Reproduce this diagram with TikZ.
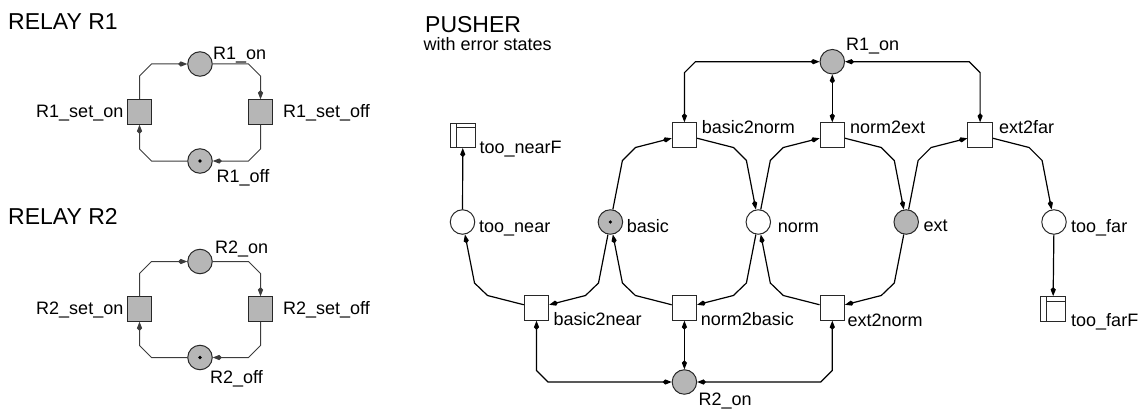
\documentclass[tikz,border=0pt]{standalone}
\usepackage{fontspec}
\setmainfont{Liberation Sans}
\usetikzlibrary{arrows.meta}
\definecolor{pfill}{RGB}{182,182,182}
\definecolor{edge}{RGB}{40,40,40}
\definecolor{redge}{RGB}{60,60,60}
\tikzset{
  place/.style={circle, draw=edge, line width=1pt, minimum size=24.5pt, inner sep=0pt, fill=white},
  gplace/.style={place, fill=pfill},
  trans/.style={rectangle, draw=edge, line width=1pt, minimum size=24.5pt, inner sep=0pt, fill=white},
  gtrans/.style={trans, fill=pfill},
  finalbox/.style={trans, path picture={
      \draw[edge, line width=0.9pt] ([xshift=5.5pt]path picture bounding box.north west) -- ([xshift=5.5pt]path picture bounding box.south west);
      \draw[edge, line width=0.9pt] ([xshift=5.5pt,yshift=-4.8pt]path picture bounding box.north west) -- ([yshift=-4.8pt]path picture bounding box.north east);
  }},
  tok/.style={circle, fill=black, inner sep=0pt, minimum size=3.6pt},
  lbl/.style={inner sep=0pt, anchor=base west, font=\fontsize{18}{20}\selectfont},
  rlbl/.style={lbl, anchor=base east},
  ttl/.style={inner sep=0pt, anchor=base west, font=\fontsize{23}{26}\selectfont},
  tip/.style={Kite[length=9pt,width=5.2pt,inset=2.5pt]},
  arr/.style={-{Kite[length=9pt,width=5.2pt,inset=2.5pt]}, line width=1.2pt, draw=black},
  darr/.style={{Kite[length=9pt,width=5.2pt,inset=2.5pt]}-{Kite[length=9pt,width=5.2pt,inset=2.5pt]}, line width=1.2pt, draw=black},
  rarr/.style={-{Kite[length=9pt,width=5.2pt,inset=2.5pt]}, line width=1pt, draw=redge},
}
\begin{document}
\begin{tikzpicture}[x=1pt, y=-1pt]
\useasboundingbox (0,0) rectangle (1145,409);

% ---------------- RELAY R1 ----------------
\node[ttl] (t1) at (8,29.5) {RELAY R1};
\node[gplace] (r1on) at (200,64) {};
\node[gtrans] (r1seton) at (139.5,112) {};
\node[gtrans] (r1setoff) at (260.5,112) {};
\node[gplace] (r1off) at (200,161) {};
\node[tok] (r1tok) at (r1off) {};
\node[lbl] (lr1on) at (213,60) {R1\_on};
\node[rlbl] (lr1seton) at (123.5,117.5) {R1\_set\_on};
\node[lbl] (lr1setoff) at (283,117.5) {R1\_set\_off};
\node[lbl] (lr1off) at (216.5,182) {R1\_off};
\draw[rarr] (r1seton) -- (139.5,76) -- (151.5,64) -- (r1on);
\draw[rarr] (r1on) -- (248.5,64) -- (260.5,76) -- (r1setoff);
\draw[rarr] (r1setoff) -- (260.5,149) -- (248.5,161) -- (r1off);
\draw[rarr] (r1off) -- (151.5,161) -- (139.5,149) -- (r1seton);

% ---------------- RELAY R2 ----------------
\node[ttl] (t2) at (8,224) {RELAY R2};
\node[gplace] (r2on) at (200,261.5) {};
\node[gtrans] (r2seton) at (139.5,309) {};
\node[gtrans] (r2setoff) at (260.5,309) {};
\node[gplace] (r2off) at (200,357.5) {};
\node[tok] (r2tok) at (r2off) {};
\node[lbl] (lr2on) at (215,253.5) {R2\_on};
\node[rlbl] (lr2seton) at (123.5,314.5) {R2\_set\_on};
\node[lbl] (lr2setoff) at (283,314.5) {R2\_set\_off};
\node[lbl] (lr2off) at (210,383) {R2\_off};
\draw[rarr] (r2seton) -- (139.5,273.5) -- (151.5,261.5) -- (r2on);
\draw[rarr] (r2on) -- (248.5,261.5) -- (260.5,273.5) -- (r2setoff);
\draw[rarr] (r2setoff) -- (260.5,345.5) -- (248.5,357.5) -- (r2off);
\draw[rarr] (r2off) -- (151.5,357.5) -- (139.5,345.5) -- (r2seton);

% ---------------- PUSHER ----------------
\node[ttl] (t3) at (425,32.5) {PUSHER};
\node[lbl] (t3b) at (423.5,51) {with error states};

\node[gplace] (pr1) at (832.3,61.7) {};
\node[gplace] (pr2) at (684.4,382) {};

\node[trans] (b2norm) at (684.4,135) {};
\node[trans] (n2ext) at (832.3,135) {};
\node[trans] (e2far) at (980.1,135) {};
\node[finalbox] (nearF) at (462.8,135.3) {};

\node[place] (toonear) at (462.5,222) {};
\node[gplace] (basic) at (610.4,222) {};
\node[tok] (btok) at (basic) {};
\node[place] (norm) at (758.3,222) {};
\node[gplace] (ext) at (906.2,222) {};
\node[place] (toofar) at (1054,222) {};

\node[trans] (b2near) at (536.5,308) {};
\node[trans] (n2basic) at (684.4,308) {};
\node[trans] (e2norm) at (832.3,308) {};
\node[finalbox] (farF) at (1053,308.8) {};

\node[lbl] (lpr1) at (846,50.5) {R1\_on};
\node[lbl] (lb2norm) at (701.7,134) {basic2norm};
\node[lbl] (ln2ext) at (850,134) {norm2ext};
\node[lbl] (le2far) at (999,134) {ext2far};
\node[lbl] (lnearF) at (479.3,153.5) {too\_nearF};
\node[lbl] (ltoonear) at (479,232.5) {too\_near};
\node[lbl] (lbasic) at (626.7,232.5) {basic};
\node[lbl] (lnorm) at (777.7,232) {norm};
\node[lbl] (lext) at (923.3,231.5) {ext};
\node[lbl] (ltoofar) at (1071,232) {too\_far};
\node[lbl] (lb2near) at (553.3,325) {basic2near};
\node[lbl] (ln2basic) at (700.7,325) {norm2basic};
\node[lbl] (le2norm) at (847.3,326) {ext2norm};
\node[lbl] (lfarF) at (1071,326.5) {too\_farF};
\node[lbl] (lpr2) at (698.5,405) {R2\_on};

% top transitions
\draw[arr] (basic) -- (622.4,160.5) -- (635.4,147.5) -- (b2norm);
\draw[arr] (b2norm) -- (733.4,147.5) -- (746.4,160.5) -- (norm);
\draw[arr] (norm) -- (770.3,160.5) -- (783.3,147.5) -- (n2ext);
\draw[arr] (n2ext) -- (881.3,147.5) -- (894.3,160.5) -- (ext);
\draw[arr] (ext) -- (918.1,160.5) -- (931.1,147.5) -- (e2far);
\draw[arr] (e2far) -- (1029.1,147.5) -- (1042.1,160.5) -- (toofar);

% bottom transitions
\draw[arr] (basic) -- (598.5,283) -- (585.5,295.5) -- (b2near);
\draw[arr] (b2near) -- (487.5,295.5) -- (474.5,283) -- (toonear);
\draw[arr] (norm) -- (746.4,283) -- (733.4,295.5) -- (n2basic);
\draw[arr] (n2basic) -- (635.4,295.5) -- (622.4,283) -- (basic);
\draw[arr] (ext) -- (894.3,283) -- (881.3,295.5) -- (e2norm);
\draw[arr] (e2norm) -- (783.3,295.5) -- (770.3,283) -- (norm);

% error states
\draw[arr] (toonear) -- (nearF);
\draw[arr] (toofar) -- (farF);

% relay R1 test arcs
\draw[darr] (b2norm) -- (684.4,72.7) -- (695.4,61.7) -- (pr1);
\draw[darr] (pr1) -- (n2ext);
\draw[darr] (pr1) -- (969.1,61.7) -- (980.1,72.7) -- (e2far);

% relay R2 test arcs
\draw[darr] (b2near) -- (536.5,370.5) -- (548,382) -- (pr2);
\draw[darr] (n2basic) -- (pr2);
\draw[darr] (pr2) -- (820.8,382) -- (832.3,370.5) -- (e2norm);
\end{tikzpicture}
\end{document}
